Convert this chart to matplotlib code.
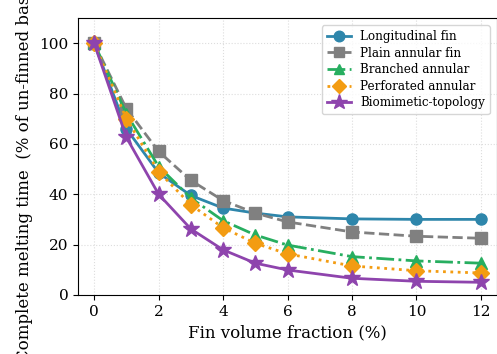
import matplotlib
matplotlib.use("Agg")
import matplotlib.pyplot as plt

plt.rcParams['font.family'] = ['DejaVu Serif']

fin_fraction = [0, 1, 2, 3, 4, 5, 6, 8, 10, 12]
longitudinal = [100, 66, 48.5, 39.5, 34.5, 32.5, 31, 30.2, 30, 30]
plain_annular = [100, 74, 57, 45.5, 37.5, 32.5, 29, 25, 23.3, 22.5]
branched = [100, 72, 51, 38.5, 29.5, 23.8, 19.8, 15.2, 13.5, 12.6]
perforated = [100, 70, 49, 35.8, 26.7, 20.5, 16.3, 11.5, 9.6, 8.7]
biomimetic = [100, 62.6, 40, 26.2, 17.9, 12.6, 9.9, 6.6, 5.4, 5.0]

series = [
    ("Longitudinal fin", longitudinal, "#2E86AB", "-", "o", 8),
    ("Plain annular fin", plain_annular, "#808080", "--", "s", 8),
    ("Branched annular", branched, "#27AE60", "-.", "^", 8),
    ("Perforated annular", perforated, "#F39C12", ":", "D", 8),
    ("Biomimetic-topology", biomimetic, "#8E44AD", "-", "*", 12),
]

fig = plt.figure(figsize=(4.97, 3.54), dpi=100)
ax = fig.add_axes([0.157, 0.167, 0.843, 0.782])
for label, vals, color, ls, mk, ms in series:
    ax.plot(fin_fraction, vals, color=color, linestyle=ls, marker=mk,
            markersize=ms, linewidth=2, label=label)

ax.set_xlim(-0.5, 12.5)
ax.set_ylim(0, 110)
ax.set_xticks([0, 2, 4, 6, 8, 10, 12])
ax.set_yticks([0, 20, 40, 60, 80, 100])
ax.tick_params(labelsize=11)
ax.grid(True, linestyle=':', color='#dddddd', linewidth=0.8)
ax.set_xlabel("Fin volume fraction (%)", fontsize=12)
ax.set_ylabel("Complete melting time  (% of un-finned baseline)", fontsize=12)
ax.yaxis.set_label_coords(-0.108, 0.505)
ax.legend(loc='upper right', fontsize=8.6, frameon=True, fancybox=True,
          handlelength=2.0, labelspacing=0.3, borderaxespad=0.6,
          markerscale=0.95)

fig.savefig("out.png", dpi=100)
